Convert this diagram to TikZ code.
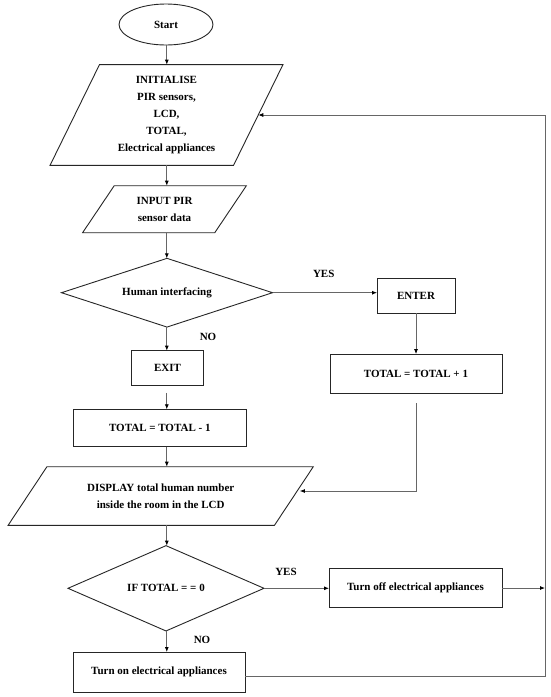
\documentclass[tikz,border=0pt]{standalone}
\usepackage{fontspec}
\setmainfont{Liberation Serif}
\usetikzlibrary{shapes.geometric,arrows.meta,calc}
\begin{document}
\begin{tikzpicture}[x=1pt,y=-1pt,
  base/.style={draw=black!85, line width=0.9pt, font=\fontsize{11}{17}\selectfont\bfseries, align=center, inner sep=0pt, outer sep=0pt},
  boxnode/.style={base, rectangle},
  startnode/.style={base, ellipse},
  iobox/.style={base, trapezium, trapezium stretches=true},
  decision/.style={base, diamond},
  conn/.style={draw=black!60, line width=0.8pt},
  arr/.style={conn, -{Latex[length=5pt,width=4pt,black]}},
  lbl/.style={font=\fontsize{11}{13}\selectfont\bfseries, inner sep=0pt}
]
\fill[white] (0,0) rectangle (550,697);
\useasboundingbox (0,0) rectangle (550,697);
\coordinate (spine) at (166.8,0);
\coordinate (loop) at (545,0);

\node[startnode, minimum width=94pt, minimum height=41pt] (start) at (166,24.5) {Start};
\node[iobox, trapezium left angle=65.4, trapezium right angle=114.6, minimum width=233pt, minimum height=100.7pt, font=\fontsize{11}{17.2}\selectfont\bfseries] (p1) at (166.5,115) {INITIALISE\\PIR sensors,\\LCD,\\TOTAL,\\Electrical appliances};
\node[iobox, trapezium left angle=54.1, trapezium right angle=125.9, minimum width=165pt, minimum height=47pt] (p2) at (164.5,209.2) {INPUT PIR\\sensor data};
\node[decision, aspect=3, minimum width=211pt, minimum height=68.7pt] (d1) at (167,292.7) {Human interfacing};
\node[boxnode, minimum width=78pt, minimum height=35pt] (enter) at (416,295.8) {ENTER};
\node[boxnode, minimum width=172pt, minimum height=39.3pt] (tp1) at (416,373.7) {TOTAL = TOTAL + 1};
\node[boxnode, minimum width=72pt, minimum height=34.3pt] (exit) at (167.5,367.8) {EXIT};
\node[boxnode, minimum width=173.5pt, minimum height=37.4pt] (tm1) at (159.8,428) {TOTAL = TOTAL - 1};
\node[iobox, trapezium left angle=44.2, trapezium right angle=135.8, minimum width=306pt, minimum height=58.6pt, font=\fontsize{11}{16.7}\selectfont\bfseries] (p3) at (160.7,496) {DISPLAY total human number\\inside the room in the LCD};
\node[decision, aspect=2.3, minimum width=196pt, minimum height=85.3pt] (d2) at (166,588.3) {IF TOTAL = = 0};
\node[boxnode, minimum width=173pt, minimum height=39.4pt] (toff) at (415.5,588) {Turn off electrical appliances};
\node[boxnode, minimum width=172pt, minimum height=40pt] (ton) at (159,672) {Turn on electrical appliances};

\node[lbl] (yes1) at (323.7,274.3) {YES};
\node[lbl] (no1) at (208,336.7) {NO};
\node[lbl] (yes2) at (286,572.3) {YES};
\node[lbl] (no2) at (202,640) {NO};

\draw[arr] (start.south -| spine) -- (p1.north -| spine);
\draw[arr] (p1.south -| spine) -- (p2.north -| spine);
\draw[arr] (p2.south -| spine) -- (d1.north -| spine);
\draw[arr] (d1.south -| spine) -- (exit.north -| spine);
\draw[arr, shorten <=8pt] (exit.south -| spine) -- (tm1.north -| spine);
\draw[arr] (tm1.south -| spine) -- (p3.north -| spine);
\draw[arr] (p3.south -| spine) -- (d2.north -| spine);
\draw[arr] (d2.south -| spine) -- (ton.north -| spine);
\draw[arr] (d1.east) -- (d1.east -| enter.west);
\draw[arr] (enter.south) -- (tp1.north);
\draw[arr, shorten <=10pt, shorten >=6pt] (tp1.south) |- ([yshift=5pt]p3.east);
\draw[arr] (d2.east) -- (d2.east -| toff.west);
\draw[arr] (toff.east) -- (toff.east -| loop);
\draw[arr] ([yshift=-4pt]ton.east) -- ([yshift=-4pt]ton.east -| loop) -- (loop |- p1.east) -- (p1.east);
\end{tikzpicture}
\end{document}
